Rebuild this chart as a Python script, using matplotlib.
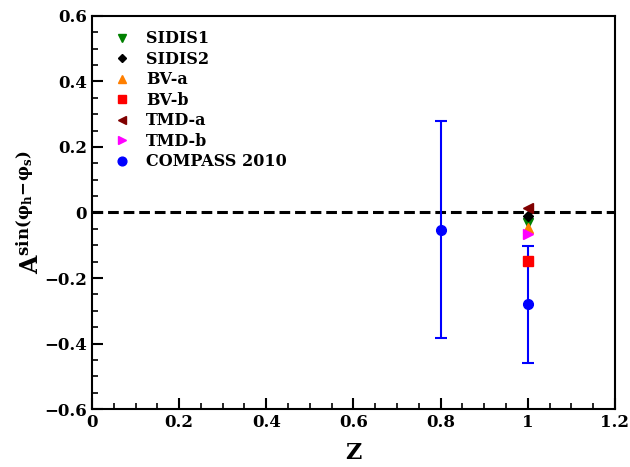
import numpy as np
import matplotlib
matplotlib.use('Agg')
import matplotlib.pyplot as plt
from matplotlib.ticker import MultipleLocator

plt.rcParams['font.family'] = 'DejaVu Serif'
plt.rcParams['font.weight'] = 'bold'
plt.rcParams['mathtext.fontset'] = 'dejavuserif'

# theory curves at z = 1
z_th = [1.0]
sidis1 = [-0.032]
sidis2 = [-0.010]
bv_a = [-0.047]
bv_b = [-0.148]
tmd_a = [0.013]
tmd_b = [-0.065]

# COMPASS 2010 data
z_exp = [0.8, 1.0]
a_exp = [-0.052, -0.280]
a_err = [0.330, 0.178]

fig, ax = plt.subplots(figsize=(6.3, 4.67), dpi=100)
fig.subplots_adjust(left=0.146, right=0.976, top=0.966, bottom=0.124)

ax.axhline(0, color='black', ls=(0, (3.5, 1.6)), lw=2.2, zorder=1)

ax.errorbar(z_exp, a_exp, yerr=a_err, fmt='none', ecolor='blue', elinewidth=1.5,
            capsize=4, capthick=1.5, zorder=2)
ax.plot(z_th, sidis1, 'v', color='green', ms=7, ls='none', label='SIDIS1', zorder=3)
ax.plot(z_th, sidis2, 'D', color='black', ms=5, ls='none', label='SIDIS2', zorder=3)
ax.plot(z_th, bv_a, '^', color='#ff7f00', ms=7, ls='none', label='BV-a', zorder=3)
ax.plot(z_th, bv_b, 's', color='red', ms=7, ls='none', label='BV-b', zorder=3)
ax.plot(z_th, tmd_a, '<', color='#800000', ms=7, ls='none', label='TMD-a', zorder=4)
ax.plot(z_th, tmd_b, '>', color='magenta', ms=7, ls='none', label='TMD-b', zorder=3)
ax.plot(z_exp, a_exp, 'o', color='blue', ms=7, ls='none', label='COMPASS 2010', zorder=3)

ax.set_xlim(0, 1.2)
ax.set_ylim(-0.6, 0.6)
ax.xaxis.set_minor_locator(MultipleLocator(0.05))
ax.yaxis.set_minor_locator(MultipleLocator(0.05))
ax.set_xticks([0, 0.2, 0.4, 0.6, 0.8, 1.0, 1.2])
ax.set_xticklabels(['0', '0.2', '0.4', '0.6', '0.8', '1', '1.2'])
ax.set_yticks([-0.6, -0.4, -0.2, 0, 0.2, 0.4, 0.6])
ax.set_yticklabels(['\u22120.6', '\u22120.4', '\u22120.2', '0', '0.2', '0.4', '0.6'])
ax.tick_params(which='both', direction='in', top=False, right=False, labelsize=12)
ax.tick_params(which='major', length=8, width=1.5)
ax.tick_params(which='minor', length=4, width=1.2)
for s in ax.spines.values():
    s.set_linewidth(1.5)

ax.set_xlabel('Z', fontsize=16, fontweight='bold', labelpad=8)
ax.set_ylabel(r'$\mathbf{A^{sin(\varphi_h\!-\!\varphi_s)}}$', fontsize=17, labelpad=0)

ax.legend(loc='upper left', frameon=False, fontsize=11.5, handletextpad=0.5,
          labelspacing=0.22, borderaxespad=0.5, markerscale=0.9)

fig.savefig('out.png', dpi=100)
